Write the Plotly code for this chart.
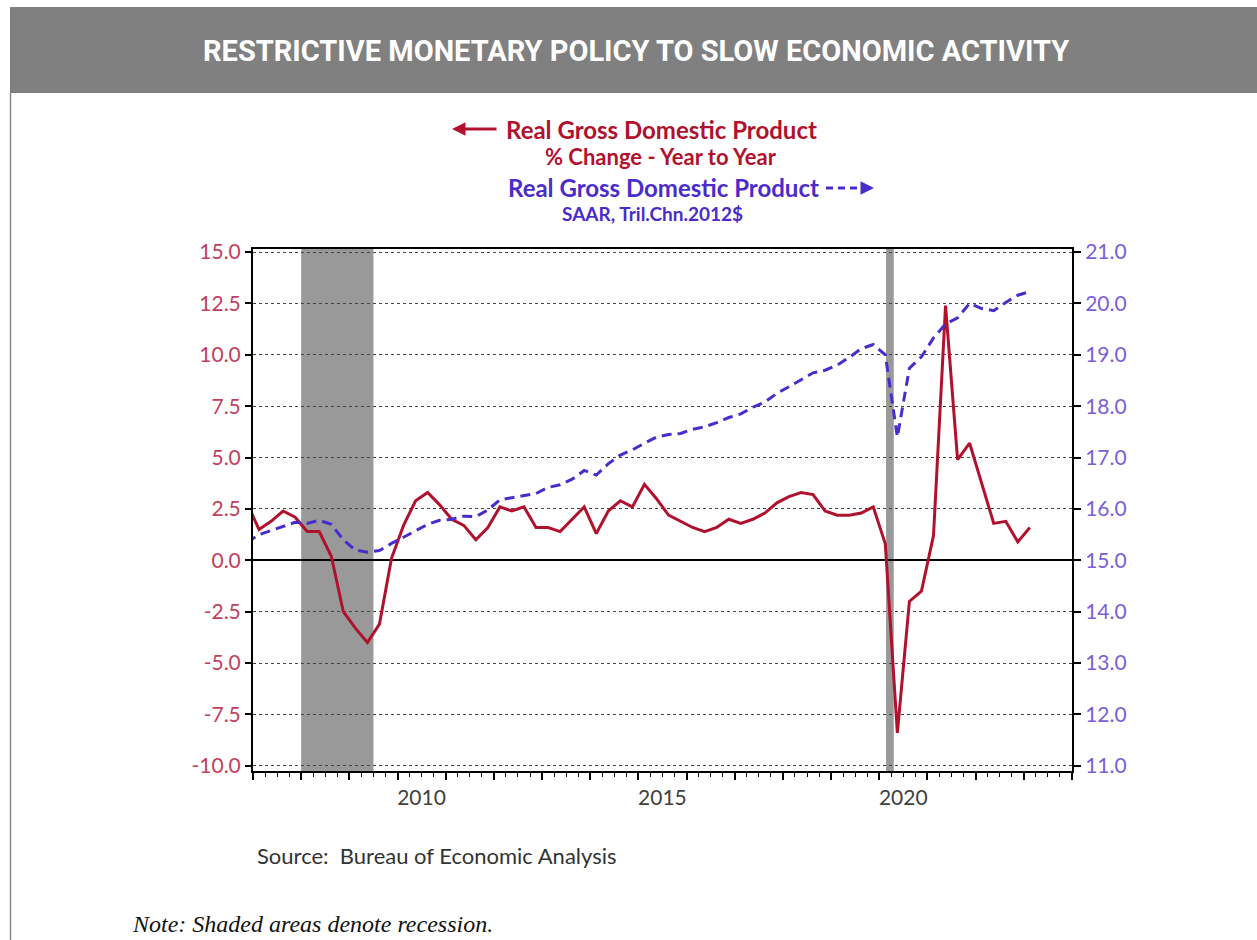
import pandas as pd
import plotly.graph_objects as go

# ---------------- data ----------------
quarters = [str(p) for p in pd.period_range("2006Q4", "2023Q1", freq="Q")]

gdp_yoy = [
    2.8,
    1.5, 1.9, 2.4, 2.1,
    1.4, 1.4, 0.2, -2.5,
    -3.3, -4.0, -3.1, 0.1,
    1.7, 2.9, 3.3, 2.7,
    2.0, 1.7, 1.0, 1.6,
    2.6, 2.4, 2.6, 1.6,
    1.6, 1.4, 2.0, 2.6,
    1.3, 2.4, 2.9, 2.6,
    3.7, 3.0, 2.2, 1.9,
    1.6, 1.4, 1.6, 2.0,
    1.8, 2.0, 2.3, 2.8,
    3.1, 3.3, 3.2, 2.4,
    2.2, 2.2, 2.3, 2.6,
    0.8, -8.4, -2.0, -1.5,
    1.2, 12.4, 4.9, 5.7,
    3.7, 1.8, 1.9, 0.9,
    1.6,
]

gdp_level = [
    15.35,
    15.50, 15.58, 15.66, 15.74,
    15.72, 15.78, 15.70, 15.40,
    15.20, 15.16, 15.19, 15.33,
    15.45, 15.58, 15.70, 15.78,
    15.80, 15.86, 15.85, 15.98,
    16.18, 16.22, 16.26, 16.30,
    16.42, 16.47, 16.58, 16.75,
    16.66, 16.88, 17.05, 17.15,
    17.28, 17.40, 17.45, 17.47,
    17.55, 17.60, 17.68, 17.78,
    17.85, 17.98, 18.08, 18.25,
    18.38, 18.52, 18.65, 18.70,
    18.80, 18.95, 19.12, 19.20,
    19.00, 17.40, 18.74, 18.96,
    19.33, 19.60, 19.72, 20.00,
    19.90, 19.86, 20.02, 20.16,
    20.23,
]

recessions = [(2008.0, 2009.5), (2020.14, 2020.30)]

year_ticks = list(range(2007, 2025))
year_labels = ["2010", "2015", "2020"]

left_ticks = [-10.0, -7.5, -5.0, -2.5, 0.0, 2.5, 5.0, 7.5, 10.0, 12.5, 15.0]
left_labels = ["-10.0", "-7.5", "-5.0", "-2.5", "0.0", "2.5", "5.0", "7.5", "10.0", "12.5", "15.0"]
right_ticks = [11.0, 12.0, 13.0, 14.0, 15.0, 16.0, 17.0, 18.0, 19.0, 20.0, 21.0]

title_text = "RESTRICTIVE MONETARY POLICY TO SLOW ECONOMIC ACTIVITY"

# ---------------- helpers ----------------
def qx(q):
    y, n = int(q[:4]), int(q[-1])
    return y + (n - 1) * 0.25 + 0.125

xs = [qx(q) for q in quarters]

W, H = 1257, 940
L, R, T, B = 253, 1072, 249, 771

def px(x):
    return (x - L) / (R - L)

def py(y):
    return (B - y) / (B - T)

RED = "#B0122E"
BLUE = "#4A2CCC"
RED_TXT = "#C2405C"
BLUE_TXT = "#7A60D8"
FONT = "Lato, 'Open Sans', sans-serif"

fig = go.Figure()

fig.add_trace(go.Scatter(
    x=xs, y=gdp_yoy, mode="lines", name="Real GDP % change",
    line=dict(color=RED, width=3), yaxis="y", showlegend=False,
))
fig.add_trace(go.Scatter(
    x=xs, y=gdp_level, mode="lines", name="Real GDP level",
    line=dict(color=BLUE, width=3, dash="10px,6px"), yaxis="y2", showlegend=False,
))

shapes = []
for a, b in recessions:
    shapes.append(dict(type="rect", xref="x", yref="paper", x0=a, x1=b, y0=0, y1=1,
                       fillcolor="#999999", line=dict(width=0), layer="below"))

# banner
shapes.append(dict(type="rect", xref="paper", yref="paper",
                   x0=px(10), x1=px(1262), y0=py(93), y1=py(7),
                   fillcolor="#808080", line=dict(width=0), layer="below"))
# frame line on left
shapes.append(dict(type="line", xref="paper", yref="paper",
                   x0=px(10.5), x1=px(10.5), y0=py(93), y1=py(945),
                   line=dict(color="#8a8a8a", width=1.5)))
# blue legend dashed stroke
shapes.append(dict(type="line", xref="paper", yref="paper",
                   x0=px(826), x1=px(864), y0=py(188), y1=py(188),
                   line=dict(color=BLUE, width=3, dash="7px,5px")))

annotations = [
    dict(text="<b>" + title_text + "</b>", xref="paper", yref="paper",
         x=px(636), y=py(51), showarrow=False, xanchor="center", yanchor="middle",
         font=dict(family="Roboto, sans-serif", size=29, color="white")),
    dict(text="<b>Real Gross Domestic Product</b>", xref="paper", yref="paper",
         x=px(504), y=py(129), showarrow=False, xanchor="left", yanchor="middle",
         font=dict(family=FONT, size=24, color=RED)),
    dict(text="<b>% Change - Year to Year</b>", xref="paper", yref="paper",
         x=px(661), y=py(156), showarrow=False, xanchor="center", yanchor="middle",
         font=dict(family=FONT, size=22, color=RED)),
    dict(text="<b>Real Gross Domestic Product</b>", xref="paper", yref="paper",
         x=px(506), y=py(188), showarrow=False, xanchor="left", yanchor="middle",
         font=dict(family=FONT, size=24, color=BLUE)),
    dict(text="<b>SAAR, Tril.Chn.2012$</b>", xref="paper", yref="paper",
         x=px(652), y=py(213), showarrow=False, xanchor="center", yanchor="middle",
         font=dict(family=FONT, size=19, color=BLUE)),
    # red arrow (pointing left)
    dict(text="", xref="paper", yref="paper", x=px(452), y=py(129),
         ax=46, ay=0, showarrow=True, arrowhead=2, arrowsize=0.9, arrowwidth=3,
         arrowcolor=RED),
    # blue arrow head (pointing right)
    dict(text="", xref="paper", yref="paper", x=px(874), y=py(188),
         ax=-8, ay=0, showarrow=True, arrowhead=2, arrowsize=0.9, arrowwidth=3,
         arrowcolor=BLUE),
    dict(text="Source:  Bureau of Economic Analysis", xref="paper", yref="paper",
         x=px(255), y=py(855), showarrow=False, xanchor="left", yanchor="middle",
         font=dict(family=FONT, size=22, color="#333333")),
    dict(text="<i>Note: Shaded areas denote recession.</i>", xref="paper", yref="paper",
         x=px(130), y=py(924), showarrow=False, xanchor="left", yanchor="middle",
         font=dict(family="'Liberation Serif', 'DejaVu Serif', serif", size=24,
                   color="#111111")),
]

x_ticktext = [str(y) if str(y) in year_labels else "" for y in year_ticks]

fig.update_layout(
    width=W, height=H,
    margin=dict(l=L, r=W - R, t=T, b=H - B, pad=0),
    paper_bgcolor="white", plot_bgcolor="white",
    shapes=shapes, annotations=annotations,
    font=dict(family=FONT),
    xaxis=dict(
        range=[2007, 2024], tickmode="array", tickvals=year_ticks, ticktext=x_ticktext,
        ticklabelshift=24, ticks="outside", ticklen=7, tickwidth=1.5, tickcolor="black",
        minor=dict(dtick=0.25, tick0=2007, ticks="outside", ticklen=4, tickwidth=1,
                   tickcolor="black", showgrid=False),
        showline=True, linecolor="black", linewidth=2, mirror=True,
        showgrid=False, zeroline=False,
        tickfont=dict(family=FONT, size=21, color="#404040"),
    ),
    yaxis=dict(
        range=[-10.25, 15.15], tickmode="array", tickvals=left_ticks, ticktext=left_labels,
        ticks="outside", ticklen=6, tickwidth=1.5, tickcolor="black",
        showline=True, linecolor="black", linewidth=2,
        showgrid=True, gridcolor="#444444", gridwidth=1, griddash="dot",
        zeroline=True, zerolinecolor="black", zerolinewidth=2,
        tickfont=dict(family=FONT, size=21, color=RED_TXT),
    ),
    yaxis2=dict(
        range=[10.9, 21.06], tickmode="array", tickvals=right_ticks,
        tickformat=".1f", ticks="outside", ticklen=7, tickwidth=1.5, tickcolor="black",
        overlaying="y", side="right", showline=True, linecolor="black", linewidth=2,
        showgrid=False, zeroline=False,
        tickfont=dict(family=FONT, size=21, color=BLUE_TXT),
    ),
)

fig.write_html("out.html", config={"displayModeBar": False},
               post_script="document.body.style.margin='0';")
